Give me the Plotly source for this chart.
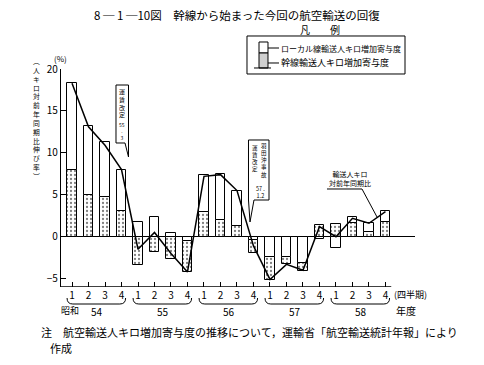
import plotly.graph_objects as go

# ---------------- data ----------------
years = ["54", "55", "56", "57", "58"]
quarters = ["1", "2", "3", "4"]
# 幹線輸送人キロ増加寄与度 (trunk-line contribution, %)
trunk = [8.0, 5.0, 4.7, 3.1, -3.4, -1.8, -2.7, -3.7, 2.9, 2.0, 1.3, -1.6,
         -2.8, -0.8, -1.0, 1.4, 1.5, 1.6, 0.6, 1.8]
# ローカル線輸送人キロ増加寄与度 (local-line contribution, %)
local = [10.3, 8.2, 6.6, 4.9, 1.7, 2.4, 0.4, -0.5, 4.5, 5.5, 4.2, -0.4,
         -2.4, -2.4, -3.1, -0.3, -1.3, 0.8, 1.0, 1.3]
# 輸送人キロ対前年同期比 (%)
total = [18.3, 13.1, 10.9, 8.0, -1.5, 0.5, -2.0, -4.2, 7.2, 7.4, 5.5, -1.1,
         -5.1, -3.3, -4.0, 1.2, 0.0, 2.2, 1.6, 3.0]
ytick_vals = [-5, 0, 5, 10, 15, 20]

n = len(trunk)
xs = list(range(n))
ticktext = [quarters[i % 4] for i in xs]
local_neg = [v if v < 0 else None for v in local]
local_pos = [v if v >= 0 else None for v in local]

W, H = 484, 365
OFF = 8  # page body margin of the html page
FONT = "Noto Sans CJK JP"


def X(px):
    return (px - OFF) / W


def Y(py):
    return 1 - (py - OFF) / H


def P(px, py):
    return f"{X(px):.5f},{Y(py):.5f}"


white_marker = dict(color="white", line=dict(color="black", width=1))
dot_marker = dict(color="white", line=dict(color="black", width=1),
                  pattern=dict(shape=".", fgcolor="black", bgcolor="white",
                               size=4, solidity=0.25))

fig = go.Figure()
fig.add_trace(go.Bar(x=xs, y=local_neg, width=0.56, marker=white_marker,
                     showlegend=False))
fig.add_trace(go.Bar(x=xs, y=trunk, width=0.56, marker=dot_marker,
                     showlegend=False))
fig.add_trace(go.Bar(x=xs, y=local_pos, width=0.56, marker=white_marker,
                     showlegend=False))
fig.add_trace(go.Scatter(x=xs, y=total, mode="lines",
                         line=dict(color="black", width=1.5),
                         showlegend=False))

shapes = []
annotations = []


def text(px, py, s, size=10, xanchor="center"):
    annotations.append(dict(xref="paper", yref="paper", x=X(px), y=Y(py),
                            text=s, showarrow=False, xanchor=xanchor,
                            yanchor="middle", borderpad=0,
                            font=dict(family=FONT, size=size, color="black")))


def path(points, close=True, fill=None, width=1):
    d = "M " + " L ".join(P(a, b) for a, b in points)
    if close:
        d += " Z"
    shapes.append(dict(type="path", xref="paper", yref="paper", path=d,
                       line=dict(color="black", width=width),
                       fillcolor=fill if fill else "rgba(0,0,0,0)"))


def vcol(s):
    return "<br>".join(list(s))


# x axis baseline (stops short of right edge)
shapes.append(dict(type="line", xref="x", yref="y", x0=-0.667, x1=19.35,
                   y0=-6, y1=-6, line=dict(color="black", width=1.3)))

# braces under each fiscal year
for g in range(len(years)):
    x0, x1 = 4 * g - 0.3, 4 * g + 3.25
    y0, y1 = Y(298), Y(304)
    d = (f"M {x0},{y0} Q {x0},{y1} {x0 + 0.35},{y1} "
         f"L {x1 - 0.35},{y1} Q {x1},{y1} {x1},{y0}")
    shapes.append(dict(type="path", xref="x", yref="paper", path=d,
                       line=dict(color="black", width=1)))
    annotations.append(dict(xref="x", yref="paper", x=4 * g + 1.5, y=Y(311),
                            text=years[g], showarrow=False, borderpad=0,
                            xanchor="center", yanchor="middle",
                            font=dict(family=FONT, size=10, color="black")))

text(70, 310, "昭和", 9)
text(406, 310, "年度", 10)
text(410, 294, "(四半期)", 9)

# title
text(237, 15, "8 ─ 1 ─10図　幹線から始まった今回の航空輸送の回復", 11.5)

# legend
text(320, 30, "凡　　例", 10)
path([(247, 36), (405, 36), (405, 74), (247, 74)])
path([(259, 42), (268, 42), (268, 53), (259, 53)], fill="white")
path([(259, 53), (268, 53), (268, 68), (259, 68)], fill="#cfcfcf")
path([(254, 68), (271, 68)], close=False)
path([(268, 48), (279, 48)], close=False)
path([(268, 63), (279, 63)], close=False)
text(280, 48, "ローカル線輸送人キロ増加寄与度", 8, xanchor="left")
text(280, 63, "幹線輸送人キロ増加寄与度", 9, xanchor="left")

# y axis title (vertical)
text(36, 118, vcol("︵人キロ対前年同期比伸び率︶"), 6.8)
text(60, 59, "(%)", 8)

# callout 1: 運賃改定 55.3
path([(116, 85), (128.5, 85), (128.5, 157), (125, 143), (116, 143)],
     fill="white")
text(122, 103, vcol("運賃改定"), 6)
text(122, 131, "55<br>·<br>3", 5)

# callout 2: 羽田沖事故 運賃改定 57.1.2
path([(248.5, 140), (269, 140), (269, 200), (254, 200), (250, 222),
      (248.5, 200)], fill="white")
text(263.5, 160, vcol("羽田沖事故"), 5.5)
text(255, 158, vcol("運賃改定"), 5.5)
text(260, 192, "57 .<br>1.2", 5.5)

# callout 3: 輸送人キロ 対前年同期比
text(328, 178.5, "輸送人キロ<br>対前年同期比", 7, xanchor="left")
path([(327, 189), (362, 189), (377, 217)], close=False)

# note
text(40, 332, "注　航空輸送人キロ増加寄与度の推移について，運輸省「航空輸送統計年報」により",
     11, xanchor="left")
text(49, 348, "作成", 11, xanchor="left")

fig.update_layout(
    width=W, height=H,
    margin=dict(l=0, r=0, t=0, b=0, autoexpand=False),
    paper_bgcolor="white", plot_bgcolor="white",
    barmode="relative", bargap=0,
    font=dict(family=FONT, size=10, color="black"),
    shapes=shapes, annotations=annotations,
    xaxis=dict(domain=[X(61), X(415)], range=[-0.667, 20.79],
               tickvals=xs, ticktext=ticktext, ticks="inside", ticklen=5,
               tickcolor="black", tickwidth=1, showline=False,
               showgrid=False, zeroline=False, ticklabelstandoff=1,
               tickfont=dict(family=FONT, size=10, color="black")),
    yaxis=dict(domain=[Y(287), Y(69)], range=[-6, 20],
               tickvals=ytick_vals, ticks="inside", ticklen=5,
               tickcolor="black", tickwidth=1, showline=True,
               linecolor="black", linewidth=1.3, showgrid=False,
               zeroline=True, zerolinecolor="black", zerolinewidth=1.3,
               tickfont=dict(family=FONT, size=10, color="black")),
)

fig.write_html("out.html")
